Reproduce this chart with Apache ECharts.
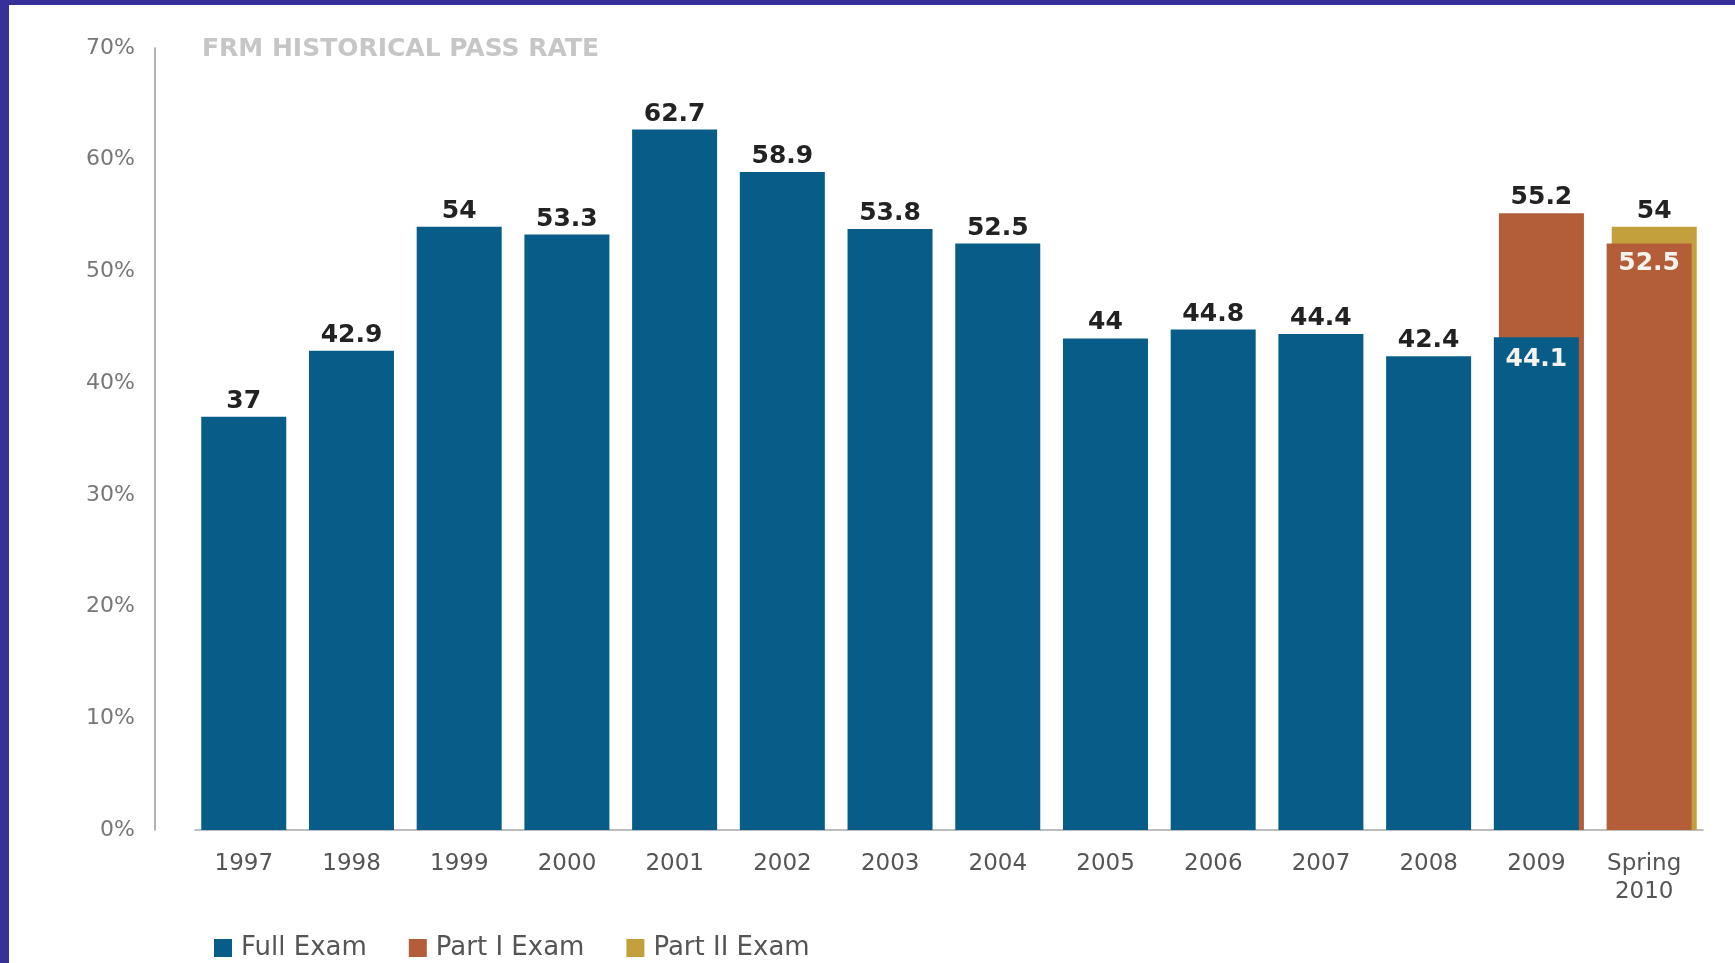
<!DOCTYPE html>
<html>
<head>
<meta charset="utf-8">
<script src="https://cdn.jsdelivr.net/npm/echarts@6/dist/echarts.min.js"></script>
<style>
  html, body { margin: 0; padding: 0; width: 1735px; height: 963px; background: #35309a; overflow: hidden; }
  #chart { position: absolute; left: 9px; top: 5px; width: 1726px; height: 958px; background: #ffffff; }
</style>
</head>
<body>
<div id="chart"></div>
<script>
// ---- data ----
const categories = ['1997', '1998', '1999', '2000', '2001', '2002', '2003', '2004', '2005', '2006', '2007', '2008', '2009', 'Spring\n2010'];
const fullExam = [37, 42.9, 54, 53.3, 62.7, 58.9, 53.8, 52.5, 44, 44.8, 44.4, 42.4, 44.1, null];
const partIExam = [null, null, null, null, null, null, null, null, null, null, null, null, 55.2, 52.5];
const partIIExam = [null, null, null, null, null, null, null, null, null, null, null, null, null, 54];
const yTicks = [0, 10, 20, 30, 40, 50, 60, 70];
const seriesNames = ['Full Exam', 'Part I Exam', 'Part II Exam'];
const title = 'FRM HISTORICAL PASS RATE';

// ---- styling ----
const colors = ['#075d87', '#b35d39', '#c4a03c'];
const allSeries = [fullExam, partIExam, partIIExam];

function buildData(idx) {
  return allSeries[idx].map((v, i) => {
    if (v == null) return null;
    // a bar covered by a taller bar of another series at the same category gets its label inside
    const covered = allSeries.some((s, j) => j !== idx && s[i] != null && s[i] > v);
    return {
      value: v,
      label: covered
        ? { position: 'insideTop', distance: idx === 0 ? 10 : 7, color: '#f6f2ee' }
        : { position: 'top', distance: 3, color: '#222222' }
    };
  });
}

const labelFont = { show: true, fontFamily: 'DejaVu Sans', fontWeight: 'bold', fontSize: 25 };

const chart = echarts.init(document.getElementById('chart'), null, { renderer: 'canvas' });
chart.setOption({
  animation: false,
  backgroundColor: '#ffffff',
  title: {
    text: title,
    left: 193,
    top: 32,
    padding: 0,
    textStyle: { fontFamily: 'DejaVu Sans', fontWeight: 'bold', fontSize: 25, color: '#c6c6c6' }
  },
  legend: {
    data: seriesNames,
    left: 205,
    top: 930,
    padding: 0,
    itemWidth: 18,
    itemHeight: 18,
    itemGap: 42,
    icon: 'rect',
    textStyle: { fontFamily: 'DejaVu Sans', fontSize: 26, color: '#555555', padding: [0, 0, 0, 4] }
  },
  grid: { left: 186, right: 32, top: 43, bottom: 133, containLabel: false },
  xAxis: {
    type: 'category',
    data: categories,
    axisLine: { show: true, lineStyle: { color: '#a8a8a8', width: 1.5 } },
    axisTick: { show: false },
    axisLabel: { fontFamily: 'DejaVu Sans', fontSize: 23, color: '#555555', margin: 20, lineHeight: 28, interval: 0, padding: [0, 10, 0, 0] }
  },
  yAxis: {
    type: 'value',
    min: yTicks[0],
    max: yTicks[yTicks.length - 1],
    interval: yTicks[1] - yTicks[0],
    offset: 40,
    axisLine: { show: true, lineStyle: { color: '#9a9a9a', width: 1.5 } },
    axisTick: { show: false },
    splitLine: { show: false },
    axisLabel: { formatter: '{value}%', fontFamily: 'DejaVu Sans', fontSize: 22, color: '#777777', margin: 20 }
  },
  series: seriesNames.map((name, idx) => ({
    name: name,
    type: 'bar',
    data: buildData(idx),
    barWidth: 85,
    barGap: '-94%',
    z: 4 - idx,
    itemStyle: { color: colors[idx] },
    label: Object.assign({}, labelFont)
  }))
});
</script>
</body>
</html>
